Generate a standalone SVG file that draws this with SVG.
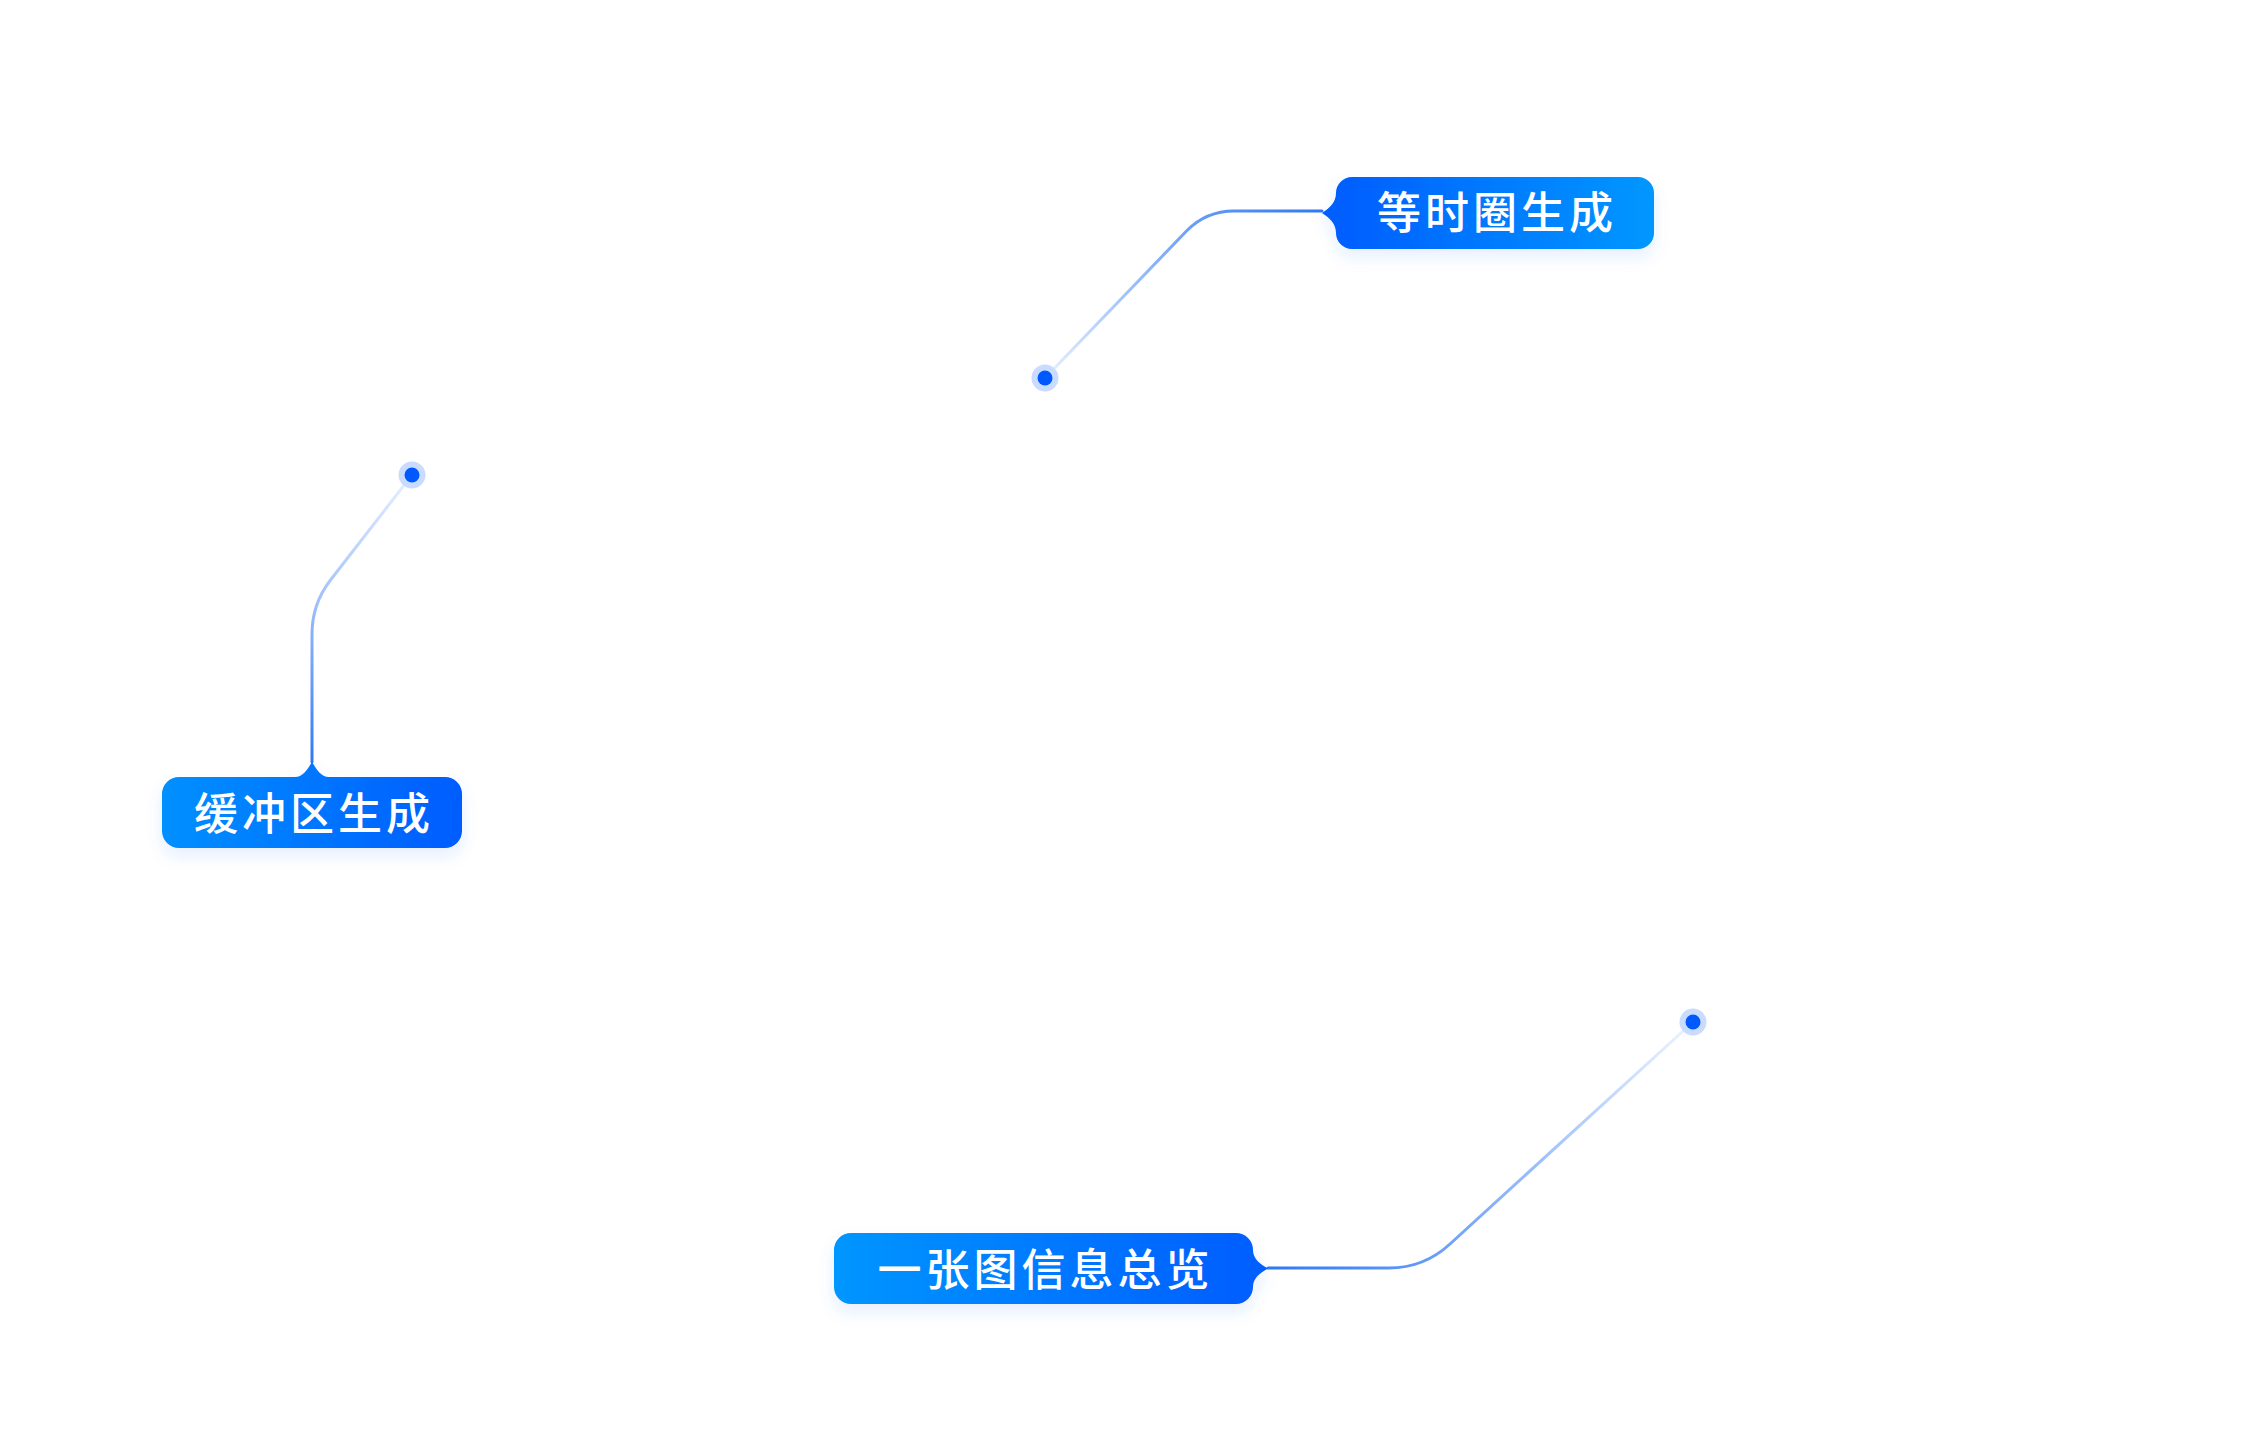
<svg xmlns="http://www.w3.org/2000/svg" width="2250" height="1440" viewBox="0 0 2250 1440">
<style>
.lbl{font-family:"Noto Sans CJK SC","Noto Sans",sans-serif;font-size:44px;font-weight:500;letter-spacing:4px;fill:#ffffff;text-anchor:middle}
.conn{fill:none;stroke-width:3;stroke-linecap:round;stroke-linejoin:round}
.halo{fill:#c9dbff}
.dot{fill:#0058ff}
</style>
<defs>
<linearGradient id="g1" x1="1336" y1="0" x2="1654" y2="0" gradientUnits="userSpaceOnUse"><stop offset="0" stop-color="#005eff"/><stop offset="1" stop-color="#0097ff"/></linearGradient>
<linearGradient id="g2" x1="162" y1="0" x2="462" y2="0" gradientUnits="userSpaceOnUse"><stop offset="0" stop-color="#0090ff"/><stop offset="1" stop-color="#005cff"/></linearGradient>
<linearGradient id="g3" x1="834" y1="0" x2="1253" y2="0" gradientUnits="userSpaceOnUse"><stop offset="0" stop-color="#0096ff"/><stop offset="1" stop-color="#005eff"/></linearGradient>
<linearGradient id="l1" x1="1045" y1="378" x2="1322" y2="211" gradientUnits="userSpaceOnUse"><stop offset="0" stop-color="#e8f0ff"/><stop offset="0.6" stop-color="#6fa2f8"/><stop offset="1" stop-color="#2f78f5"/></linearGradient>
<linearGradient id="l2" x1="412" y1="475" x2="312" y2="762" gradientUnits="userSpaceOnUse"><stop offset="0" stop-color="#e8f0ff"/><stop offset="0.5" stop-color="#9fc0fb"/><stop offset="1" stop-color="#2f78f5"/></linearGradient>
<linearGradient id="l3" x1="1693" y1="1022" x2="1268" y2="1268" gradientUnits="userSpaceOnUse"><stop offset="0" stop-color="#eef4ff"/><stop offset="0.6" stop-color="#7aa9f8"/><stop offset="1" stop-color="#2f78f5"/></linearGradient>
<filter id="sh" x="-20%" y="-30%" width="140%" height="180%"><feDropShadow dx="0" dy="8" stdDeviation="8" flood-color="#2a7cff" flood-opacity="0.12"/></filter>
</defs>
<g id="connectors">
<path class="conn" stroke="url(#l1)" d="M1045 378 L1186.5 231 Q1206 211 1234 211 L1322 211"/>
<path class="conn" stroke="url(#l2)" d="M412 475 L330.5 580 Q312 604 312 634 L312 762"/>
<path class="conn" stroke="url(#l3)" d="M1693 1022 L1450 1244 Q1424 1268 1389 1268 L1268 1268"/>
</g>
<g id="node-isochrone">
<path fill="url(#g1)" filter="url(#sh)" d="M1352 177 H1638 A16 16 0 0 1 1654 193 V233 A16 16 0 0 1 1638 249 H1352 A16 16 0 0 1 1336 233 C1336 224 1330 218 1322 213 C1330 208 1336 202 1336 193 A16 16 0 0 1 1352 177 Z"/>
<text class="lbl" x="1497" y="229">等时圈生成</text>
<circle class="halo" cx="1045" cy="378" r="13.5"/>
<circle class="dot" cx="1045" cy="378" r="7.5"/>
</g>
<g id="node-buffer">
<path fill="url(#g2)" filter="url(#sh)" d="M179 777 H295 C303 777 307 770 312 762 C317 770 321 777 329 777 H445 A17 17 0 0 1 462 794 V831 A17 17 0 0 1 445 848 H179 A17 17 0 0 1 162 831 V794 A17 17 0 0 1 179 777 Z"/>
<text class="lbl" x="314" y="830">缓冲区生成</text>
<circle class="halo" cx="412" cy="475" r="13.5"/>
<circle class="dot" cx="412" cy="475" r="7.5"/>
</g>
<g id="node-overview">
<path fill="url(#g3)" filter="url(#sh)" d="M851 1233 H1236 A17 17 0 0 1 1253 1250 C1253 1259 1260 1264 1268 1268.5 C1260 1273 1253 1278 1253 1287 A17 17 0 0 1 1236 1304 H851 A17 17 0 0 1 834 1287 V1250 A17 17 0 0 1 851 1233 Z"/>
<text class="lbl" x="1045.5" y="1286">一张图信息总览</text>
<circle class="halo" cx="1693" cy="1022" r="13.5"/>
<circle class="dot" cx="1693" cy="1022" r="7.5"/>
</g>
</svg>
